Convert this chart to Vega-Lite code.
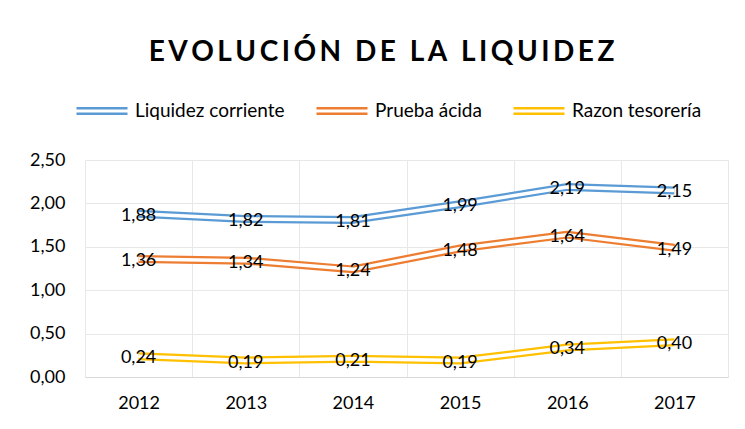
{
  "$schema": "https://vega.github.io/schema/vega-lite/v6.json",
  "width": 643,
  "height": 217,
  "autosize": {"type": "none"},
  "padding": {"left": 85, "top": 160, "right": 17, "bottom": 52},
  "background": "white",
  "config": {
    "locale": {"number": {"decimal": ",", "thousands": ".", "grouping": [3], "currency": ["", " €"]}},
    "font": "Lato",
    "view": {"stroke": null},
    "axis": {"labelFont": "Lato", "labelFontSize": 18, "labelColor": "#000000", "gridColor": "#e8e8e8", "gridWidth": 1, "ticks": false, "title": null}
  },
  "title": {
    "text": "E\u2009V\u2009O\u2009L\u2009U\u2009C\u2009I\u2009Ó\u2009N\u2009 \u2009D\u2009E\u2009 \u2009L\u2009A\u2009 \u2009L\u2009I\u2009Q\u2009U\u2009I\u2009D\u2009E\u2009Z",
    "font": "Lato",
    "fontSize": 28,
    "fontWeight": "bold",
    "color": "#000000",
    "anchor": "middle",
    "frame": "group",
    "dx": -25,
    "offset": 17
  },
  "data": {
    "values": [
      {"year": "2012", "serie": "Liquidez corriente", "valor": 1.88},
      {"year": "2013", "serie": "Liquidez corriente", "valor": 1.82},
      {"year": "2014", "serie": "Liquidez corriente", "valor": 1.81},
      {"year": "2015", "serie": "Liquidez corriente", "valor": 1.99},
      {"year": "2016", "serie": "Liquidez corriente", "valor": 2.19},
      {"year": "2017", "serie": "Liquidez corriente", "valor": 2.15},
      {"year": "2012", "serie": "Prueba ácida", "valor": 1.36},
      {"year": "2013", "serie": "Prueba ácida", "valor": 1.34},
      {"year": "2014", "serie": "Prueba ácida", "valor": 1.24},
      {"year": "2015", "serie": "Prueba ácida", "valor": 1.48},
      {"year": "2016", "serie": "Prueba ácida", "valor": 1.64},
      {"year": "2017", "serie": "Prueba ácida", "valor": 1.49},
      {"year": "2012", "serie": "Razon tesorería", "valor": 0.24},
      {"year": "2013", "serie": "Razon tesorería", "valor": 0.19},
      {"year": "2014", "serie": "Razon tesorería", "valor": 0.21},
      {"year": "2015", "serie": "Razon tesorería", "valor": 0.19},
      {"year": "2016", "serie": "Razon tesorería", "valor": 0.34},
      {"year": "2017", "serie": "Razon tesorería", "valor": 0.40}
    ]
  },
  "encoding": {
    "x": {
      "field": "year", "type": "ordinal", "bandPosition": 0.5,
      "scale": {"type": "band", "paddingInner": 0, "paddingOuter": 0},
      "axis": {"labelAngle": 0, "tickBand": "extent", "grid": true, "domain": true, "domainColor": "#d9d9d9", "labelPadding": 17}
    },
    "y": {
      "field": "valor", "type": "quantitative",
      "scale": {"domain": [0, 2.5]},
      "axis": {"values": [0, 0.5, 1, 1.5, 2, 2.5], "format": ".2f", "domain": false, "labelPadding": 20, "grid": true}
    }
  },
  "layer": [
    {
      "mark": {"type": "line", "strokeWidth": 8, "strokeCap": "butt", "strokeJoin": "round"},
      "encoding": {
        "color": {
          "field": "serie", "type": "nominal",
          "scale": {"domain": ["Liquidez corriente", "Prueba ácida", "Razon tesorería"], "range": ["#5B9BD5", "#ED7D31", "#FFC000"]},
          "legend": {
            "title": null, "orient": "none", "direction": "horizontal",
            "legendX": -10, "legendY": -76,
            "symbolType": "M-1,-0.11H1M-1,0.11H1",
            "symbolSize": 2601, "symbolStrokeWidth": 2.4,
            "labelFont": "Lato", "labelFontSize": 19, "labelColor": "#000000",
            "labelOffset": 6, "columnPadding": 26
          }
        }
      }
    },
    {
      "mark": {"type": "line", "strokeWidth": 3.5, "strokeCap": "butt", "strokeJoin": "round", "color": "white"},
      "encoding": {"detail": {"field": "serie"}}
    },
    {
      "mark": {"type": "text", "font": "Lato", "fontSize": 18, "color": "#000000", "baseline": "middle", "dy": 2},
      "encoding": {"text": {"field": "valor", "type": "quantitative", "format": ".2f"}}
    }
  ]
}
